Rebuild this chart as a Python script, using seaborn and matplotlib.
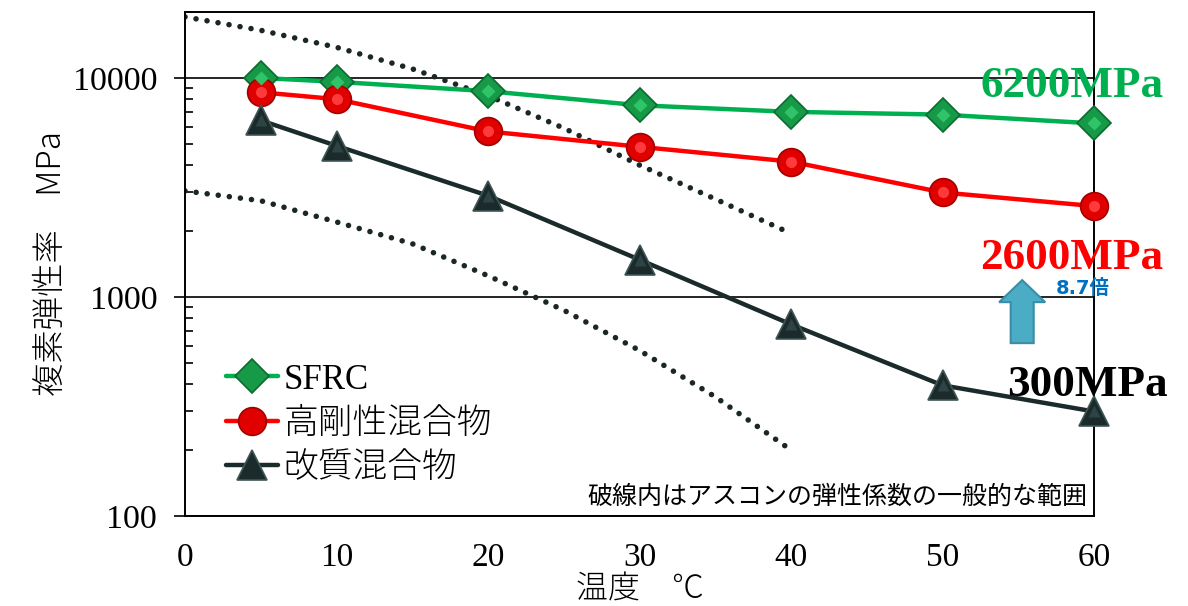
import matplotlib
matplotlib.use("Agg")
import matplotlib.pyplot as plt
from matplotlib.patches import FancyArrow
from matplotlib.ticker import LogLocator, NullFormatter, FixedLocator
import numpy as np
import pandas as pd
import seaborn as sns

# Temperatures (deg C)
temps = [5, 10, 20, 30, 40, 50, 60]
# Complex modulus (MPa) per mixture
sfrc = [10000, 9600, 8700, 7500, 7000, 6800, 6200]
high_stiff = [8600, 8000, 5700, 4850, 4150, 3000, 2600]
modified = [6400, 4900, 2900, 1480, 750, 395, 300]

# Typical asphalt-concrete modulus band (upper/lower dotted bounds)
band_t = [0, 5, 10, 15, 20, 25, 30, 35, 40]
band_upper = [19000, 16500, 13800, 11000, 8300, 5900, 4000, 2800, 1950]
band_lower = [3050, 2750, 2200, 1750, 1250, 870, 570, 350, 200]

names = ["SFRC", "高剛性混合物", "改質混合物"]
x_ticks = [0, 10, 20, 30, 40, 50, 60]
y_ticks = [100, 1000, 10000]

sns.set_theme(style="white")
plt.rcParams["font.family"] = ["Liberation Serif", "Noto Sans CJK JP", "DejaVu Sans"]
plt.rcParams["axes.unicode_minus"] = False
for key in ["text.color", "axes.labelcolor", "xtick.color", "ytick.color"]:
    plt.rcParams[key] = "black"

fig = plt.figure(figsize=(11.88, 6.06), dpi=100)
ax = fig.add_axes([185 / 1188, 1 - 516 / 606, 909 / 1188, 504 / 606])

df = pd.DataFrame({
    "temp": temps * 3,
    "E": sfrc + high_stiff + modified,
    "mix": [names[0]] * 7 + [names[1]] * 7 + [names[2]] * 7,
})
band = pd.DataFrame({"temp": band_t, "upper": band_upper, "lower": band_lower})

# dotted band bounds
for col in ["upper", "lower"]:
    sns.lineplot(data=band, x="temp", y=col, ax=ax, color="#1b2626", lw=4.0,
                 linestyle=(0, (0.01, 2.0)), legend=False)
for ln in ax.lines:
    ln.set_dash_capstyle("round")

styles = {
    names[0]: dict(color="#00B050", marker="D", ms=17, mfc="#169a48", mec="#0b6b30", inner="#2fc468", ims=7),
    names[1]: dict(color="#FF0000", marker="o", ms=20, mfc="#e00000", mec="#a30000", inner="#ff3a3a", ims=8),
    names[2]: dict(color="#1b2a2a", marker="^", ms=21, mfc="#1b2a2a", mec="#3f5656", inner="#2e4444", ims=8),
}
handles = []
for nm in names:
    st = styles[nm]
    sub = df[df["mix"] == nm]
    sns.lineplot(data=sub, x="temp", y="E", ax=ax, color=st["color"], lw=3.2,
                 marker=st["marker"], markersize=st["ms"], markerfacecolor=st["mfc"],
                 markeredgecolor=st["mec"], markeredgewidth=1.2, legend=False,
                 clip_on=False, zorder=5)
    handles.append(ax.lines[-1])
    ax.plot(sub["temp"], sub["E"], linestyle="none", marker=st["marker"],
            ms=st["ims"], mfc=st["inner"], mec="none", clip_on=False, zorder=6)

ax.set_yscale("log")
ax.set_xlim(0, 60)
ax.set_ylim(100, 20000)
ax.xaxis.set_major_locator(FixedLocator(x_ticks))
ax.yaxis.set_major_locator(FixedLocator(y_ticks))
ax.set_yticklabels([str(v) for v in y_ticks])
ax.yaxis.set_minor_locator(LogLocator(base=10, subs=np.arange(2, 10)))
ax.yaxis.set_minor_formatter(NullFormatter())
ax.tick_params(axis="x", length=0, labelsize=24, pad=19)
ax.tick_params(axis="y", which="major", direction="out", length=8, width=1.2,
               color="black", labelsize=24.5, left=True, pad=12)
ax.tick_params(axis="y", which="minor", direction="in", length=6, width=1.2,
               color="black", left=True)

ax.yaxis.grid(True, which="major", color="black", lw=1.2)
ax.xaxis.grid(False)
for sp in ax.spines.values():
    sp.set_color("black")
    sp.set_linewidth(1.4)

ax.set_xlabel("温度　℃", fontsize=23, labelpad=-1,
              family=["Noto Sans CJK JP", "DejaVu Sans"], fontweight="light")
ax.set_ylabel("複素弾性率　MPa", fontsize=24, labelpad=3,
              family=["Noto Sans CJK JP", "DejaVu Sans"], fontweight="light")

leg = ax.legend(handles, names, loc="upper left", bbox_to_anchor=(0.03, 0.33),
                frameon=False, fontsize=25, handlelength=1.5, handletextpad=0.15,
                labelspacing=0.32, borderaxespad=0)
for txt in leg.get_texts():
    txt.set_family(["Liberation Serif", "Noto Sans CJK JP"])
    txt.set_fontweight("light")

# end-point value labels
ax.text(0.976, 0.853, "6200MPa", transform=ax.transAxes, ha="center", va="center",
        fontsize=32.5, fontweight="bold", color="#00B050", family="Liberation Serif",
        clip_on=False, zorder=7)
ax.text(0.976, 0.512, "2600MPa", transform=ax.transAxes, ha="center", va="center",
        fontsize=32.5, fontweight="bold", color="#FF0000", family="Liberation Serif",
        clip_on=False, zorder=7)
ax.text(0.993, 0.26, "300MPa", transform=ax.transAxes, ha="center", va="center",
        fontsize=32.5, fontweight="bold", color="black", family="Liberation Serif",
        clip_on=False, zorder=7)
ax.text(0.988, 0.451, "8.7倍", transform=ax.transAxes, ha="center", va="center",
        fontsize=14, fontweight="bold", color="#0070C0",
        family=["DejaVu Sans", "Noto Sans CJK JP"], clip_on=False, zorder=7)

# ratio arrow
arrow = FancyArrow(0.921, 0.343, 0, 0.125, width=0.0253, head_width=0.0506,
                   head_length=0.0437, length_includes_head=True,
                   transform=ax.transAxes, facecolor="#4BACC6", edgecolor="#3a8da5",
                   lw=1.5, clip_on=False, zorder=7)
ax.add_patch(arrow)

ax.text(0.993, 0.038, "破線内はアスコンの弾性係数の一般的な範囲", transform=ax.transAxes,
        ha="right", va="center", fontsize=18, color="black",
        family=["Noto Sans CJK JP", "DejaVu Sans"])

fig.savefig("out.png", dpi=100)
